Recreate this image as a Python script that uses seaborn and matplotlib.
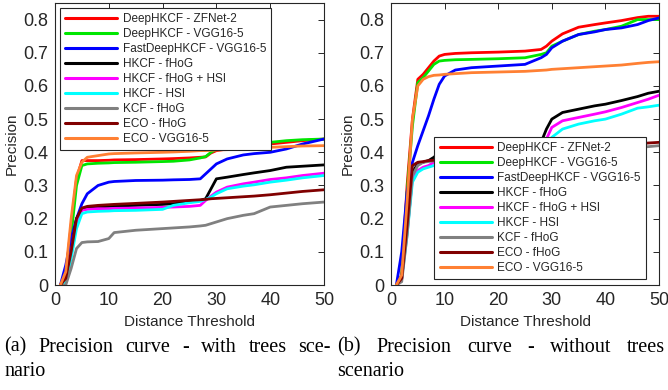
import pandas as pd
import numpy as np
import matplotlib
matplotlib.use('Agg')
import matplotlib.pyplot as plt
import seaborn as sns

# Methods and colours (legend order)
methods = ['DeepHKCF - ZFNet-2', 'DeepHKCF - VGG16-5', 'FastDeepHKCF - VGG16-5',
           'HKCF - fHoG', 'HKCF - fHoG + HSI', 'HKCF - HSI', 'KCF - fHoG',
           'ECO - fHoG', 'ECO - VGG16-5']
colors = ['#ff0000', '#00e600', '#0000ff', '#000000', '#ff00ff', '#00ffff',
          '#808080', '#800000', '#ff8033']

# (a) with trees scenario
x_a = [1, 2, 3, 4, 5, 6, 8, 10, 11, 15, 20, 22, 25, 27, 28, 29, 30, 32, 35, 37, 40, 43, 46, 50]
a_zfnet = [0, 0.03, 0.18, 0.32, 0.375, 0.375, 0.375, 0.376, 0.377, 0.378, 0.380, 0.381, 0.383, 0.385,
           0.386, 0.398, 0.405, 0.410, 0.415, 0.420, 0.425, 0.430, 0.435, 0.440]
a_vgg = [0, 0.02, 0.15, 0.30, 0.360, 0.365, 0.367, 0.368, 0.369, 0.370, 0.372, 0.373, 0.377, 0.383,
         0.387, 0.400, 0.410, 0.415, 0.420, 0.425, 0.430, 0.435, 0.438, 0.440]
a_fast = [0, 0.06, 0.14, 0.20, 0.245, 0.275, 0.300, 0.310, 0.312, 0.315, 0.316, 0.317, 0.318, 0.320,
          0.335, 0.350, 0.365, 0.380, 0.392, 0.396, 0.400, 0.410, 0.425, 0.440]
a_fhog = [0, 0.02, 0.10, 0.20, 0.228, 0.232, 0.235, 0.237, 0.238, 0.240, 0.243, 0.245, 0.250, 0.255,
          0.260, 0.290, 0.320, 0.325, 0.333, 0.338, 0.345, 0.355, 0.358, 0.362]
a_fhog_hsi = [0, 0.02, 0.10, 0.19, 0.225, 0.228, 0.230, 0.230, 0.231, 0.232, 0.234, 0.235, 0.237, 0.240,
              0.255, 0.268, 0.280, 0.295, 0.305, 0.310, 0.318, 0.323, 0.330, 0.337]
a_hsi = [0, 0.01, 0.08, 0.17, 0.215, 0.220, 0.222, 0.223, 0.224, 0.225, 0.228, 0.240, 0.248, 0.252,
         0.258, 0.265, 0.275, 0.290, 0.298, 0.302, 0.310, 0.316, 0.323, 0.330]
a_kcf = [0, 0.0, 0.05, 0.11, 0.128, 0.130, 0.131, 0.140, 0.158, 0.165, 0.170, 0.172, 0.175, 0.178,
         0.180, 0.185, 0.190, 0.200, 0.210, 0.215, 0.235, 0.240, 0.245, 0.250]
a_eco_hog = [0, 0.02, 0.10, 0.20, 0.232, 0.237, 0.240, 0.242, 0.243, 0.246, 0.250, 0.252, 0.255, 0.257,
             0.258, 0.260, 0.261, 0.263, 0.266, 0.268, 0.272, 0.277, 0.282, 0.287]
a_eco_vgg = [0, 0.04, 0.20, 0.33, 0.370, 0.385, 0.390, 0.395, 0.396, 0.398, 0.400, 0.401, 0.403, 0.405,
             0.405, 0.406, 0.407, 0.408, 0.410, 0.412, 0.415, 0.417, 0.419, 0.420]

# (b) without trees scenario
x_b = [1, 2, 3, 4, 5, 6, 7, 8, 9, 10, 12, 15, 20, 25, 28, 29, 30, 32, 35, 38, 40, 43, 46, 48, 50]
b_zfnet = [0, 0.03, 0.30, 0.50, 0.620, 0.635, 0.655, 0.675, 0.690, 0.695, 0.698, 0.700, 0.702, 0.705,
           0.710, 0.720, 0.735, 0.757, 0.777, 0.785, 0.790, 0.797, 0.806, 0.810, 0.810]
b_vgg = [0, 0.03, 0.28, 0.48, 0.610, 0.625, 0.645, 0.665, 0.675, 0.677, 0.679, 0.680, 0.682, 0.685,
         0.695, 0.700, 0.720, 0.735, 0.755, 0.765, 0.770, 0.780, 0.800, 0.800, 0.800]
b_fast = [0, 0.10, 0.28, 0.37, 0.420, 0.465, 0.510, 0.560, 0.605, 0.630, 0.648, 0.655, 0.660, 0.665,
          0.685, 0.695, 0.715, 0.735, 0.755, 0.763, 0.770, 0.775, 0.785, 0.797, 0.805]
b_fhog = [0, 0.02, 0.18, 0.34, 0.365, 0.370, 0.375, 0.385, 0.400, 0.405, 0.410, 0.415, 0.420, 0.425,
          0.430, 0.470, 0.500, 0.520, 0.530, 0.540, 0.545, 0.556, 0.568, 0.578, 0.584]
b_fhog_hsi = [0, 0.02, 0.16, 0.32, 0.345, 0.355, 0.360, 0.370, 0.375, 0.380, 0.385, 0.390, 0.395, 0.400,
              0.410, 0.440, 0.475, 0.495, 0.505, 0.515, 0.522, 0.535, 0.550, 0.560, 0.572]
b_hsi = [0, 0.02, 0.15, 0.31, 0.340, 0.350, 0.355, 0.360, 0.370, 0.375, 0.380, 0.385, 0.390, 0.395,
         0.400, 0.420, 0.445, 0.470, 0.485, 0.495, 0.500, 0.515, 0.533, 0.537, 0.542]
b_kcf = [0, 0.01, 0.15, 0.33, 0.360, 0.370, 0.372, 0.374, 0.376, 0.378, 0.380, 0.383, 0.388, 0.392,
         0.395, 0.397, 0.398, 0.400, 0.403, 0.406, 0.408, 0.411, 0.415, 0.417, 0.420]
b_eco_hog = [0, 0.02, 0.18, 0.36, 0.370, 0.372, 0.375, 0.376, 0.377, 0.378, 0.380, 0.385, 0.390, 0.395,
             0.400, 0.401, 0.402, 0.405, 0.408, 0.412, 0.415, 0.420, 0.425, 0.428, 0.430]
b_eco_vgg = [0, 0.03, 0.25, 0.50, 0.600, 0.620, 0.628, 0.632, 0.633, 0.635, 0.637, 0.640, 0.642, 0.644,
             0.647, 0.648, 0.650, 0.652, 0.655, 0.658, 0.660, 0.663, 0.668, 0.671, 0.673]

series_a = [a_zfnet, a_vgg, a_fast, a_fhog, a_fhog_hsi, a_hsi, a_kcf, a_eco_hog, a_eco_vgg]
series_b = [b_zfnet, b_vgg, b_fast, b_fhog, b_fhog_hsi, b_hsi, b_kcf, b_eco_hog, b_eco_vgg]


def to_long(x, series):
    frames = []
    for name, ys in zip(methods, series):
        frames.append(pd.DataFrame({'threshold': x, 'precision': ys, 'method': name}))
    return pd.concat(frames, ignore_index=True)


sns.set_style('white')
plt.rcParams['font.family'] = ['Liberation Sans', 'DejaVu Sans']

fig = plt.figure(figsize=(6.68, 3.9), dpi=100)
ax_a = fig.add_axes([55 / 668, 1 - 285 / 390, 269 / 668, 282 / 390])
ax_b = fig.add_axes([391 / 668, 1 - 285 / 390, 268 / 668, 282 / 390])

edge = '#262626'
for ax, x, series in [(ax_a, x_a, series_a), (ax_b, x_b, series_b)]:
    df = to_long(x, series)
    sns.lineplot(data=df, x='threshold', y='precision', hue='method', hue_order=methods,
                 palette=colors, linewidth=2.0, estimator=None, sort=False, ax=ax, legend=False)
    ax.set_xlim(0, 50)
    ax.set_ylim(0, 0.85)
    ax.set_xticks([0, 10, 20, 30, 40, 50])
    ax.set_yticks([0, 0.1, 0.2, 0.3, 0.4, 0.5, 0.6, 0.7, 0.8])
    ax.set_yticklabels(['0', '0.1', '0.2', '0.3', '0.4', '0.5', '0.6', '0.7', '0.8'])
    ax.tick_params(direction='in', top=True, right=True, length=4, width=0.7,
                   labelsize=13, colors=edge, pad=5)
    for s in ax.spines.values():
        s.set_color(edge)
        s.set_linewidth(0.8)
    ax.set_xlabel('Distance Threshold', fontsize=11, color=edge, labelpad=4)
    ax.set_ylabel('Precision', fontsize=11, color=edge, labelpad=3)

handles = [plt.Line2D([], [], color=c, linewidth=2.2) for c in colors]
leg_kw = dict(fontsize=8.5, handlelength=4.4, labelspacing=0.25, borderpad=0.45,
              handletextpad=0.45, fancybox=False, framealpha=1, edgecolor=edge, borderaxespad=0)
la = ax_a.legend(handles, methods, loc='upper left', bbox_to_anchor=(0.019, 0.982), **leg_kw)
lb = ax_b.legend(handles, methods, loc='lower right', bbox_to_anchor=(0.951, 0.021), **leg_kw)
for lg in (la, lb):
    lg.get_frame().set_linewidth(0.8)

# captions (justified first line)
fig.canvas.draw()
renderer = fig.canvas.get_renderer()
cap_font = dict(family=['Liberation Serif', 'DejaVu Serif'], size=14.5, color='black')


def justified(words, x0, x1, ypix):
    texts = [fig.text(0, 1 - ypix / 390, w, va='center', ha='left', **cap_font) for w in words]
    widths = [t.get_window_extent(renderer).width for t in texts]
    gap = (x1 - x0 - sum(widths)) / (len(words) - 1)
    pos = x0
    for t, w in zip(texts, widths):
        t.set_x(pos / 668)
        pos += w + gap


justified(['(a)', 'Precision', 'curve', '-', 'with', 'trees', 'sce-'], 4, 331, 347)
fig.text(4 / 668, 1 - 372 / 390, 'nario', va='center', ha='left', **cap_font)
justified(['(b)', 'Precision', 'curve', '-', 'without', 'trees'], 337, 665, 347)
fig.text(337 / 668, 1 - 372 / 390, 'scenario', va='center', ha='left', **cap_font)

fig.savefig('out.png', dpi=100)
